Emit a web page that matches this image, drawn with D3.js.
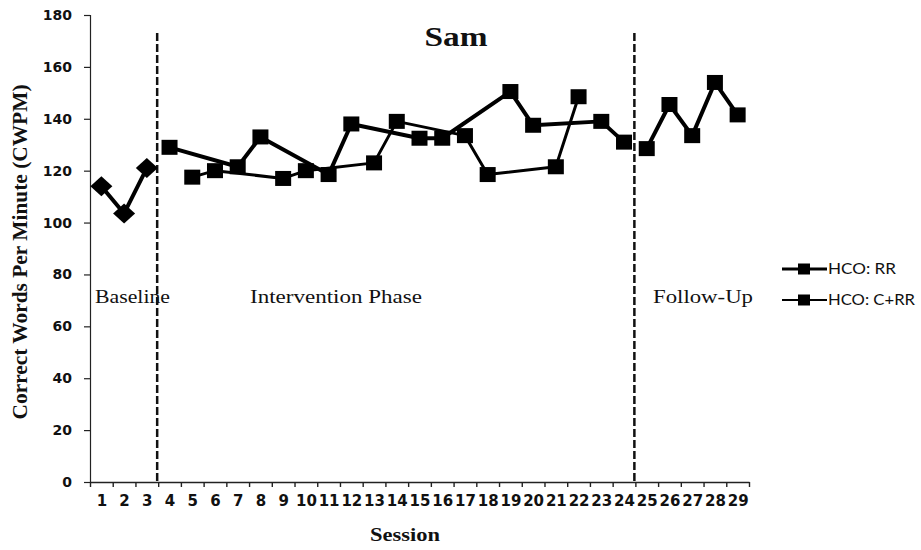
<!DOCTYPE html>
<html>
<head>
<meta charset="utf-8">
<script src="https://cdn.jsdelivr.net/npm/d3@7"></script>
<style>
  body { margin: 0; background: #fff; }
  svg { display: block; }
  .tick text { font-family: "DejaVu Sans", sans-serif; font-weight: bold; fill: #111; }
  .serif { font-family: "Liberation Serif", "Times New Roman", serif; fill: #111; }
</style>
</head>
<body>
<div id="app"></div>
<script>
const sessions = [1, 2, 3, 4, 5, 6, 7, 8, 9, 10, 11, 12, 13, 14, 15, 16, 17, 18, 19, 20, 21, 22, 23, 24, 25, 26, 27, 28, 29];
const yTicks = [0, 20, 40, 60, 80, 100, 120, 140, 160, 180];

const baselineSessions = [1, 2, 3];
const baselineValues = [114, 103.5, 121];

const rrSessions = [4, 7, 8, 11, 12, 15, 16, 19, 20, 23, 24];
const rrValues = [129, 121.5, 133, 118.5, 138, 132.5, 132.5, 150.5, 137.5, 139, 131];

const crrSessions = [5, 6, 9, 10, 13, 14, 17, 18, 21, 22];
const crrValues = [117.5, 120, 117, 120, 123, 139, 133.5, 118.5, 121.5, 148.5];

const followSessions = [25, 26, 27, 28, 29];
const followValues = [128.5, 145.5, 133.5, 154, 141.5];

const phaseBreaks = [3.5, 24.5];
const phaseLabels = ["Baseline", "Intervention Phase", "Follow-Up"];
const legendLabels = ["HCO: RR", "HCO: C+RR"];

const width = 921, height = 550;

const svg = d3.select("#app").append("svg").attr("width", width).attr("height", height);

const x = d3.scaleLinear().domain([0.5, 29.5]).range([90, 749]);
const y = d3.scaleLinear().domain([0, 180]).range([482, 15]);

// y axis
svg.append("g")
  .attr("transform", "translate(90,0)")
  .call(d3.axisLeft(y).tickValues(yTicks).tickSize(6).tickPadding(12))
  .call((g) => g.selectAll("text").style("font-size", "14px"))
  .call((g) => g.selectAll("path, line").attr("stroke", "#222").attr("stroke-width", 1.2));

// x axis: boundary ticks + centred labels
svg.append("g")
  .attr("transform", "translate(0,482)")
  .call(d3.axisBottom(x).tickValues(d3.range(0.5, 30, 1)).tickFormat("").tickSize(5).tickSizeOuter(0))
  .call((g) => g.selectAll("path, line").attr("stroke", "#222").attr("stroke-width", 1.4));

svg.append("g")
  .attr("transform", "translate(0,482)")
  .call(d3.axisBottom(x).tickValues(sessions).tickFormat(d3.format("d")).tickSize(0).tickPadding(13))
  .call((g) => g.select(".domain").remove())
  .call((g) => g.selectAll("text").style("font-size", "15px"));

// phase change lines
svg.selectAll(".phase")
  .data(phaseBreaks)
  .enter()
  .append("line")
  .attr("class", "phase")
  .attr("x1", (d) => x(d) - 1)
  .attr("x2", (d) => x(d) - 1)
  .attr("y1", 33)
  .attr("y2", 482)
  .attr("stroke", "#111")
  .attr("stroke-width", 2.5)
  .attr("stroke-dasharray", "8,3");

const line = d3.line().x((d) => x(d[0])).y((d) => y(d[1]));

const series = [
  { s: baselineSessions, v: baselineValues, w: 4, shape: "diamond" },
  { s: rrSessions, v: rrValues, w: 4, shape: "square" },
  { s: crrSessions, v: crrValues, w: 3, shape: "square" },
  { s: followSessions, v: followValues, w: 4, shape: "square" },
];

series.forEach((ser) => {
  const pts = ser.s.map((d, i) => [d, ser.v[i]]);
  svg.append("path")
    .datum(pts)
    .attr("d", line)
    .attr("fill", "none")
    .attr("stroke", "#000")
    .attr("stroke-width", ser.w)
    .attr("stroke-linejoin", "round");

  if (ser.shape === "diamond") {
    svg.selectAll(null)
      .data(pts)
      .enter()
      .append("path")
      .attr("d", (d) => {
        const cx = x(d[0]), cy = y(d[1]);
        return `M${cx},${cy - 10}L${cx + 11},${cy}L${cx},${cy + 10}L${cx - 11},${cy}Z`;
      })
      .attr("fill", "#000");
  } else {
    svg.selectAll(null)
      .data(pts)
      .enter()
      .append("rect")
      .attr("x", (d) => x(d[0]) - 8)
      .attr("y", (d) => y(d[1]) - 7.5)
      .attr("width", 16)
      .attr("height", 15)
      .attr("fill", "#000");
  }
});

// text
svg.append("text")
  .attr("class", "serif")
  .attr("x", 456)
  .attr("y", 46)
  .attr("text-anchor", "middle")
  .attr("textLength", 63)
  .attr("lengthAdjust", "spacingAndGlyphs")
  .style("font-size", "27px")
  .style("font-weight", "bold")
  .text("Sam");

const phaseX = [95, 250, 653];
const phaseW = [75, 172, 100];
svg.selectAll(".phase-label")
  .data(phaseLabels)
  .enter()
  .append("text")
  .attr("class", "serif phase-label")
  .attr("x", (d, i) => phaseX[i])
  .attr("y", 303)
  .attr("textLength", (d, i) => phaseW[i])
  .attr("lengthAdjust", "spacingAndGlyphs")
  .style("font-size", "18px")
  .text((d) => d);

svg.append("text")
  .attr("class", "serif")
  .attr("transform", "translate(27,252) rotate(-90)")
  .attr("text-anchor", "middle")
  .attr("textLength", 335)
  .attr("lengthAdjust", "spacingAndGlyphs")
  .style("font-size", "22px")
  .style("font-weight", "bold")
  .text("Correct Words Per Minute (CWPM)");

svg.append("text")
  .attr("class", "serif")
  .attr("x", 405)
  .attr("y", 541)
  .attr("text-anchor", "middle")
  .attr("textLength", 70)
  .attr("lengthAdjust", "spacingAndGlyphs")
  .style("font-size", "19px")
  .style("font-weight", "bold")
  .text("Session");

// legend
const legendY = [269, 300];
const legendW = [68, 87];
const legendLine = [3, 2];
const legend = svg.selectAll(".legend")
  .data(legendLabels)
  .enter()
  .append("g")
  .attr("class", "legend")
  .attr("transform", (d, i) => `translate(782,${legendY[i]})`);

legend.append("line")
  .attr("x1", 0)
  .attr("x2", 45)
  .attr("stroke", "#000")
  .attr("stroke-width", (d, i) => legendLine[i]);

legend.append("rect")
  .attr("x", 16)
  .attr("y", -5.5)
  .attr("width", 12)
  .attr("height", 11)
  .attr("fill", "#000");

legend.append("text")
  .attr("x", 46)
  .attr("y", 5)
  .attr("textLength", (d, i) => legendW[i])
  .attr("lengthAdjust", "spacingAndGlyphs")
  .style("font-family", "Lato, sans-serif")
  .style("font-size", "15px")
  .style("fill", "#111")
  .text((d) => d);
</script>
</body>
</html>
